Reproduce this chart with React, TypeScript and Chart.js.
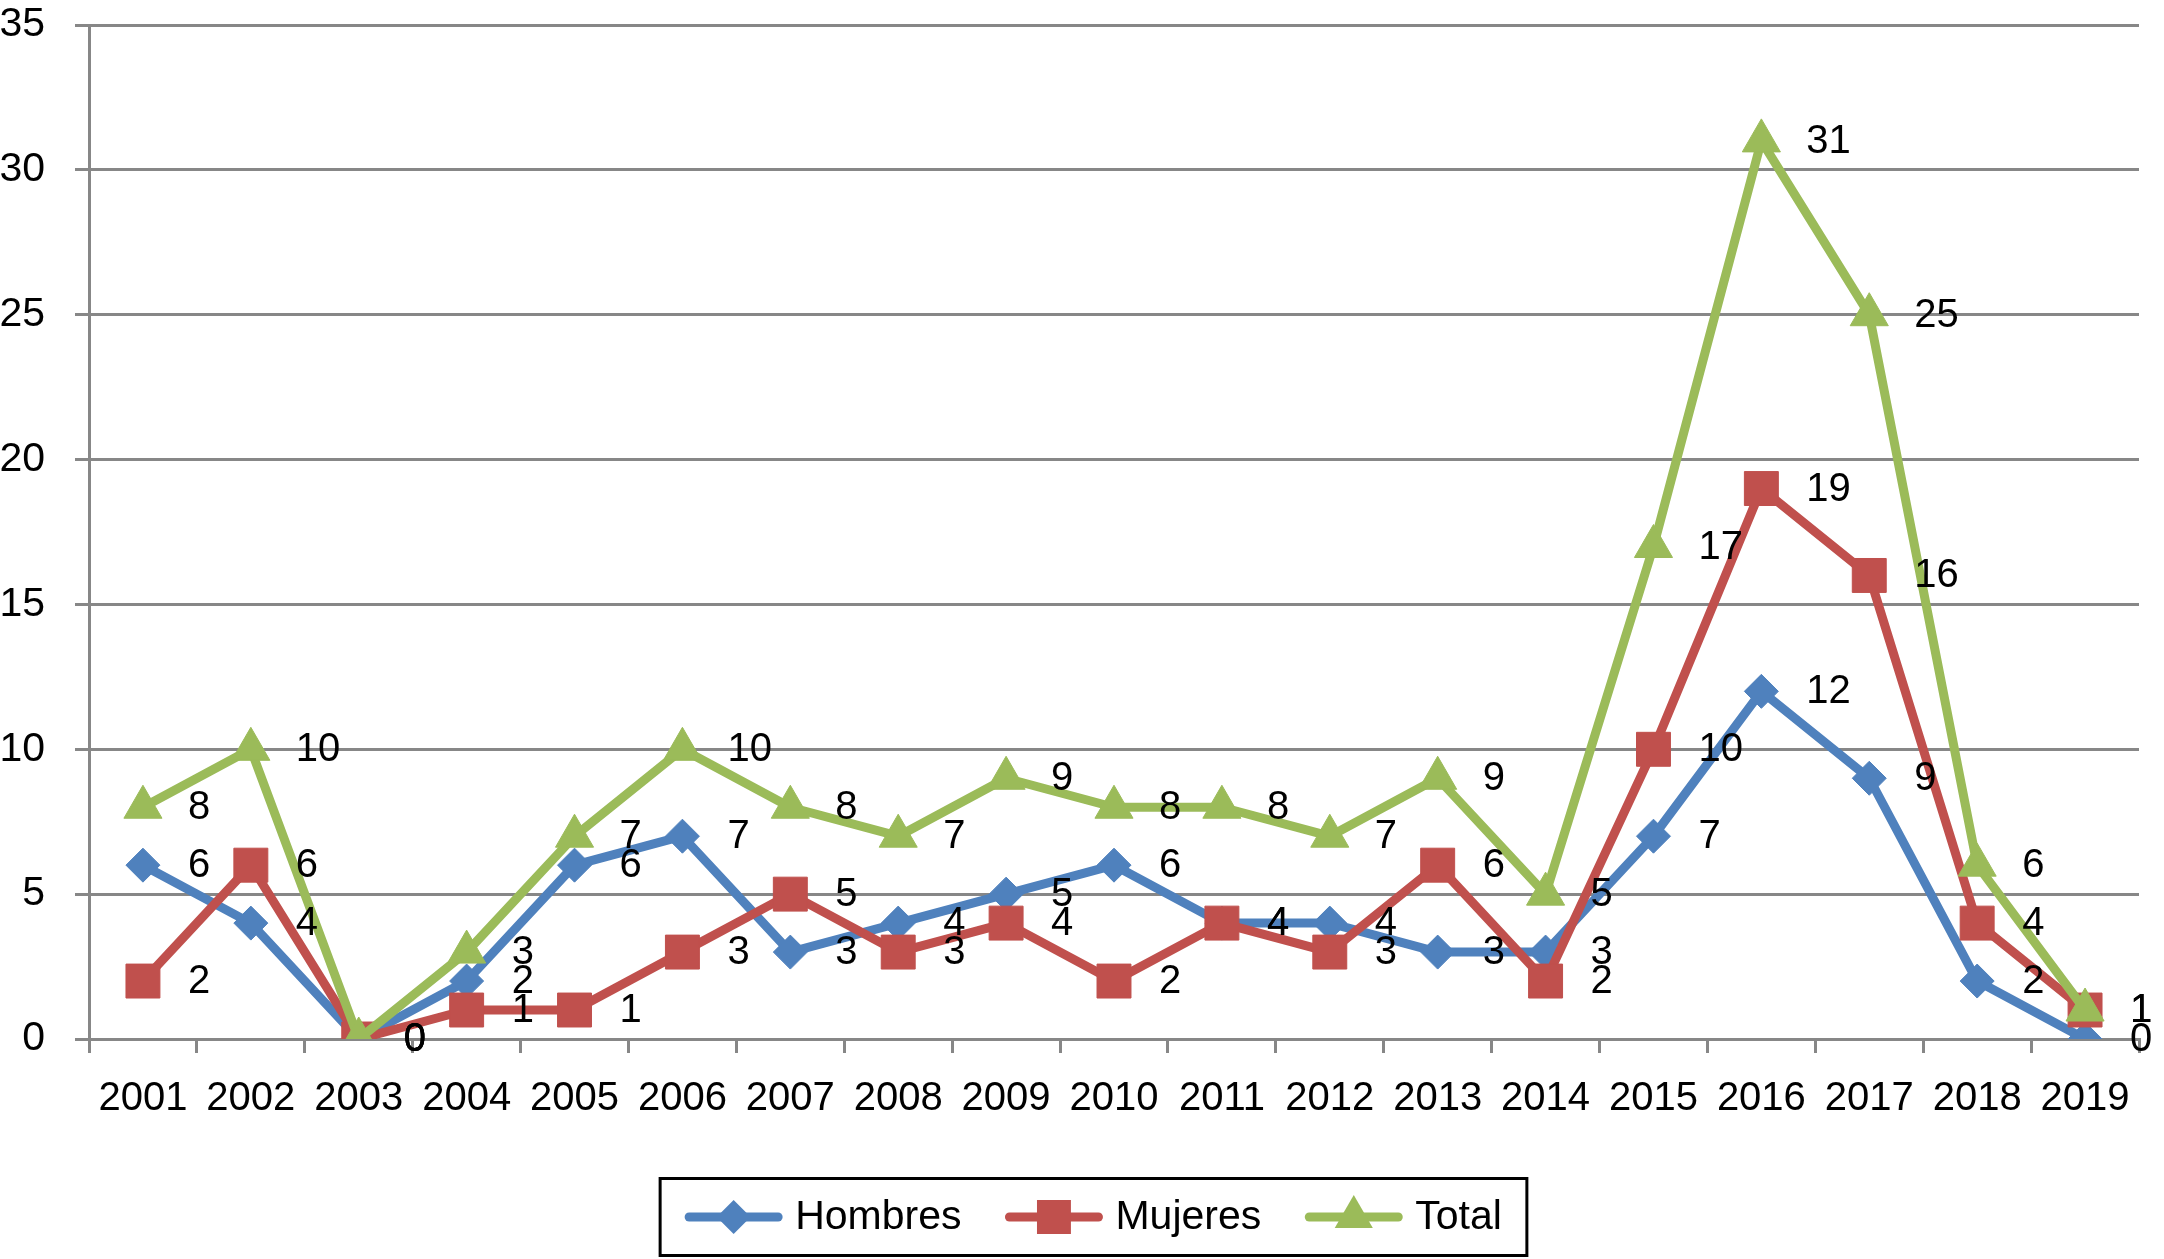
import React, { useEffect, useRef } from "react";
import { Chart, registerables } from "chart.js";

Chart.register(...registerables);

const years = ["2001","2002","2003","2004","2005","2006","2007","2008","2009","2010","2011","2012","2013","2014","2015","2016","2017","2018","2019"];
const hombres = [6, 4, 0, 2, 6, 7, 3, 4, 5, 6, 4, 4, 3, 3, 7, 12, 9, 2, 0];
const mujeres = [2, 6, 0, 1, 1, 3, 5, 3, 4, 2, 4, 3, 6, 2, 10, 19, 16, 4, 1];
const total = [8, 10, 0, 3, 7, 10, 8, 7, 9, 8, 8, 7, 9, 5, 17, 31, 25, 6, 1];
const seriesNames = ["Hombres", "Mujeres", "Total"];
const yTicks = { min: 0, max: 35, step: 5 };

const BLUE = "#4F81BD";
const RED = "#C0504D";
const GREEN = "#9BBB59";
const GRID = "#878787";
const FONT = '"Liberation Sans", Arial, Helvetica, sans-serif';

function drawMarker(ctx: CanvasRenderingContext2D, style: string, x: number, y: number, r: number) {
  ctx.beginPath();
  if (style === "rectRot") {
    ctx.moveTo(x - r, y);
    ctx.lineTo(x, y - r);
    ctx.lineTo(x + r, y);
    ctx.lineTo(x, y + r);
  } else if (style === "rect") {
    const s = r * Math.SQRT1_2;
    ctx.rect(x - s, y - s, 2 * s, 2 * s);
  } else {
    let a = 0;
    ctx.moveTo(x + Math.sin(a) * r, y - Math.cos(a) * r);
    a += (2 * Math.PI) / 3;
    ctx.lineTo(x + Math.sin(a) * r, y - Math.cos(a) * r);
    a += (2 * Math.PI) / 3;
    ctx.lineTo(x + Math.sin(a) * r, y - Math.cos(a) * r);
  }
  ctx.closePath();
  ctx.fill();
}

const dataLabelPlugin = {
  id: "dataLabels",
  afterDatasetsDraw(chart: any) {
    const ctx = chart.ctx as CanvasRenderingContext2D;
    ctx.save();
    ctx.font = `40px ${FONT}`;
    ctx.fillStyle = "#000";
    ctx.textAlign = "left";
    ctx.textBaseline = "middle";
    chart.data.datasets.forEach((ds: any, i: number) => {
      const meta = chart.getDatasetMeta(i);
      meta.data.forEach((pt: any, j: number) => {
        ctx.fillText(String(ds.data[j]), pt.x + 45, pt.y + 1);
      });
    });
    ctx.restore();
  },
};

const legendPlugin = {
  id: "customLegend",
  afterDraw(chart: any) {
    const ctx = chart.ctx as CanvasRenderingContext2D;
    ctx.save();
    ctx.font = `41px ${FONT}`;
    const lineLen = 97;
    const gapText = 13;
    const gapItem = 44;
    const pad = 25;
    const items = chart.data.datasets.map((ds: any) => ({
      label: ds.label,
      color: ds.borderColor,
      style: ds.pointStyle,
      r: ds.pointRadius,
      w: ctx.measureText(ds.label).width,
    }));
    let width = pad * 2;
    items.forEach((it: any, i: number) => {
      width += lineLen + gapText + it.w + (i < items.length - 1 ? gapItem : 0);
    });
    const cx = 1093.5;
    const top = 1178.5;
    const bottom = 1255.5;
    const left = cx - width / 2;
    ctx.lineWidth = 3;
    ctx.strokeStyle = "#000";
    ctx.strokeRect(left, top, width, bottom - top);
    const cy = (top + bottom) / 2;
    let x = left + pad;
    items.forEach((it: any) => {
      ctx.strokeStyle = it.color;
      ctx.fillStyle = it.color;
      ctx.lineWidth = 9;
      ctx.lineCap = "round";
      ctx.beginPath();
      ctx.moveTo(x + 4, cy);
      ctx.lineTo(x + lineLen - 4, cy);
      ctx.stroke();
      drawMarker(ctx, it.style, x + lineLen / 2, cy, it.r);
      x += lineLen + gapText;
      ctx.fillStyle = "#000";
      ctx.textAlign = "left";
      ctx.textBaseline = "middle";
      ctx.fillText(it.label, x, cy + 1);
      x += it.w + gapItem;
    });
    ctx.restore();
  },
};

export default function App() {
  const canvasRef = useRef<HTMLCanvasElement | null>(null);

  useEffect(() => {
    if (!canvasRef.current) return;
    const mk = (label: string, data: number[], color: string, style: string, r: number, order: number) => ({
      label,
      data,
      borderColor: color,
      backgroundColor: color,
      pointBackgroundColor: color,
      pointBorderColor: color,
      pointBorderWidth: 1,
      pointStyle: style,
      pointRadius: r,
      pointHoverRadius: r,
      borderWidth: 9,
      tension: 0,
      fill: false,
      order,
      borderJoinStyle: "round",
    });
    const chart = new Chart(canvasRef.current, {
      type: "line",
      data: {
        labels: years,
        datasets: [
          mk(seriesNames[0], hombres, BLUE, "rectRot", 17, 3),
          mk(seriesNames[1], mujeres, RED, "rect", 24, 2),
          mk(seriesNames[2], total, GREEN, "triangle", 22, 1),
        ] as any,
      },
      options: {
        animation: false,
        responsive: true,
        maintainAspectRatio: false,
        devicePixelRatio: 1,
        layout: { padding: { left: 0, right: 11, top: 22, bottom: 0 } },
        plugins: {
          legend: { display: false },
          tooltip: { enabled: false },
          title: { display: false },
        },
        scales: {
          x: {
            offset: true,
            grid: {
              offset: true,
              drawOnChartArea: false,
              drawTicks: true,
              tickLength: 14,
              tickColor: GRID,
              tickWidth: 3,
              lineWidth: 3,
              color: GRID,
            },
            border: { display: true, color: GRID, width: 3 },
            ticks: {
              color: "#000",
              font: { family: FONT, size: 40, lineHeight: 1.2 },
              padding: 22,
              maxRotation: 0,
              autoSkip: false,
            },
            afterFit: (scale: any) => {
              scale.height = 220;
              scale.paddingLeft = 0;
              scale.paddingRight = 0;
            },
          },
          y: {
            min: yTicks.min,
            max: yTicks.max,
            grid: {
              color: GRID,
              lineWidth: 3,
              tickLength: 14,
              tickColor: GRID,
              tickWidth: 3,
            },
            border: { display: true, color: GRID, width: 3 },
            ticks: {
              stepSize: yTicks.step,
              color: "#000",
              font: { family: FONT, size: 41, lineHeight: 1.1 },
              padding: 30,
            },
            afterFit: (scale: any) => {
              scale.width = 89;
              scale.paddingTop = 0;
              scale.paddingBottom = 0;
            },
          },
        },
      },
      plugins: [dataLabelPlugin, legendPlugin],
    });
    return () => chart.destroy();
  }, []);

  return (
    <div style={{ position: "absolute", left: 0, top: 0, width: 2164, height: 1259, background: "#fff" }}>
      <canvas ref={canvasRef} />
    </div>
  );
}
